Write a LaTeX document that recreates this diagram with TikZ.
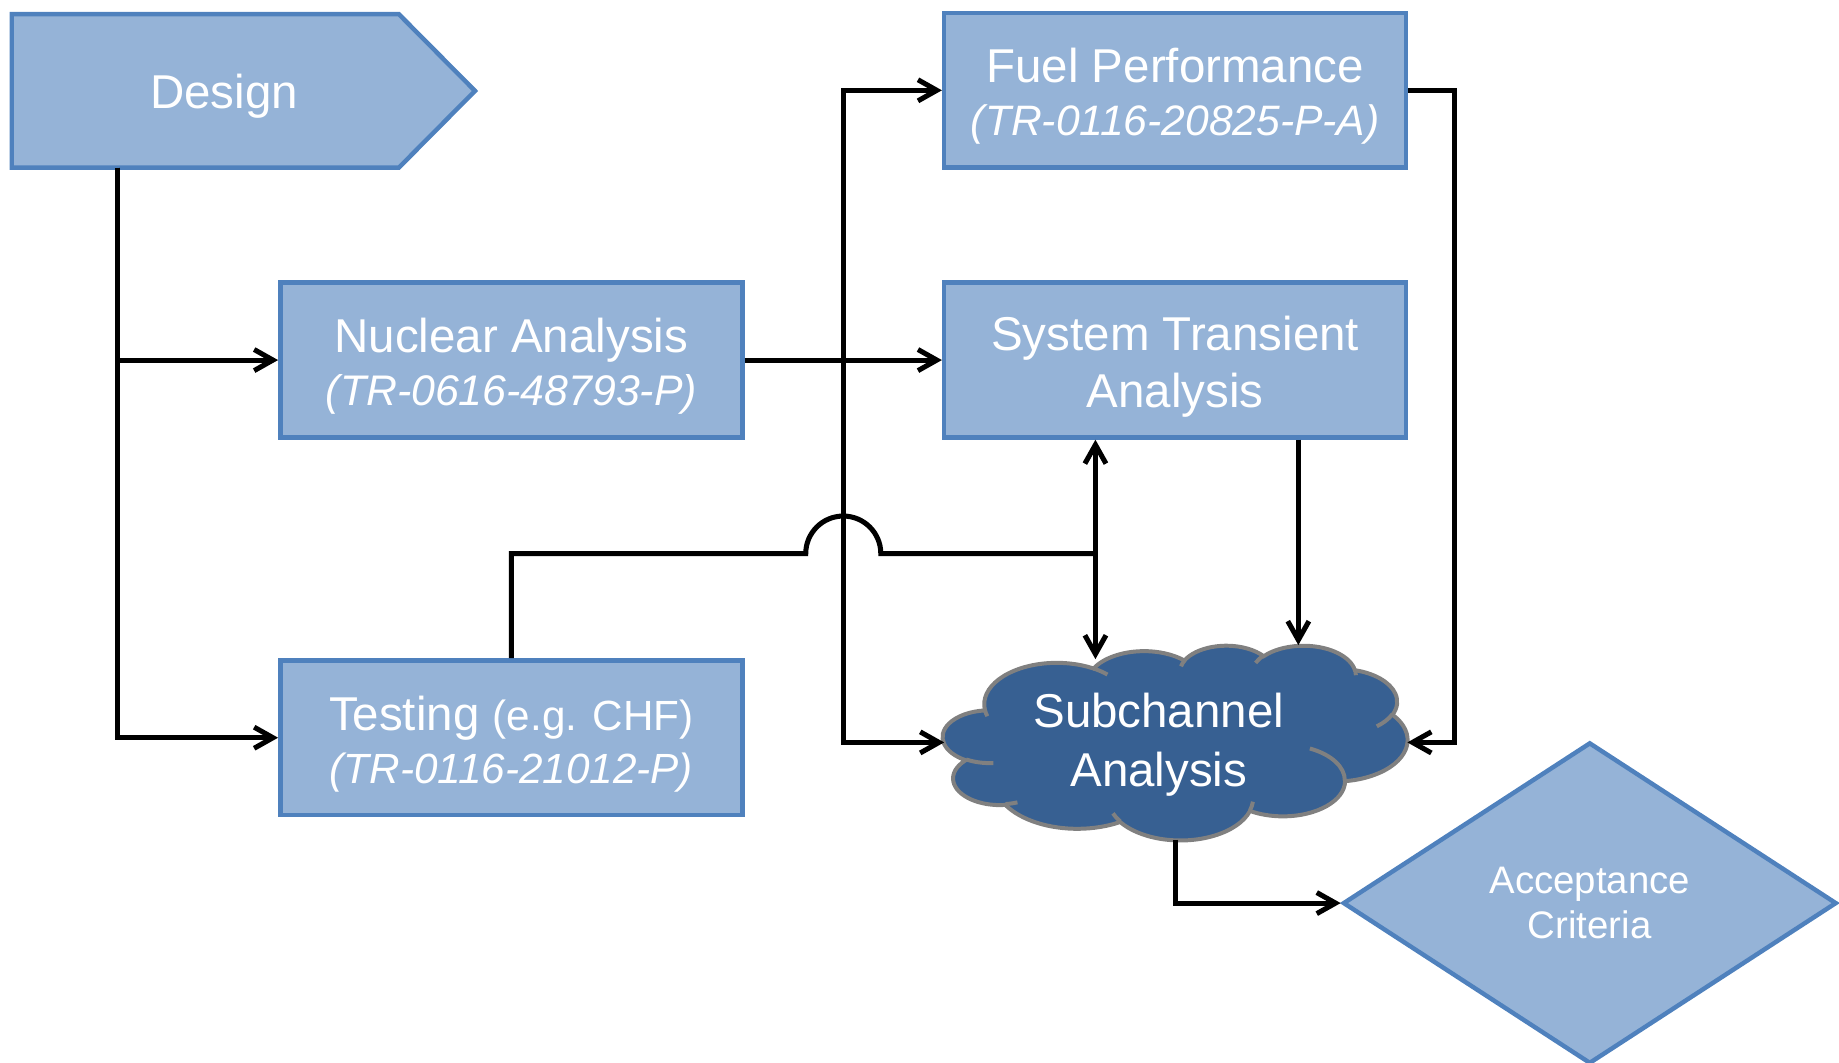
\documentclass[tikz,border=0pt]{standalone}
\usepackage{fontspec}
\setmainfont{Liberation Sans}
\usetikzlibrary{arrows.meta,shapes.geometric}
\definecolor{boxfill}{RGB}{149,179,215}
\definecolor{boxline}{RGB}{79,129,189}
\definecolor{cloudfill}{RGB}{55,96,146}
\definecolor{cloudline}{RGB}{128,128,128}
% DrawingML arcTo -> TikZ parametric arc
\newcommand\mkcloudarc[5]{%
  \pgfmathsetmacro\cloudtmps{atan2((#2)*sin(#4),(#3)*cos(#4))}%
  \pgfmathsetmacro\cloudtmpe{atan2((#2)*sin((#4)+(#5)),(#3)*cos((#4)+(#5)))}%
  \pgfmathsetmacro\cloudtmpd{mod(\cloudtmpe-(\cloudtmps)+720,360)}%
  \expandafter\xdef\csname CAs#1\endcsname{\cloudtmps}%
  \expandafter\xdef\csname CAd#1\endcsname{\cloudtmpd}%
  \expandafter\xdef\csname CAx#1\endcsname{#2}%
  \expandafter\xdef\csname CAy#1\endcsname{#3}%
}
\tikzset{
  carc/.style={x radius=\csname CAx#1\endcsname, y radius=\csname CAy#1\endcsname,
    start angle=\csname CAs#1\endcsname, delta angle=\csname CAd#1\endcsname},
  box/.style={draw=boxline, fill=boxfill, line width=3.8pt, minimum width=394pt,
    minimum height=132pt, inner sep=0pt, align=center, text=white,
    font={\fontsize{40.5}{45}\selectfont}},
  conn/.style={line width=4.3pt, draw=black},
  arr/.style={-{Straight Barb[length=16pt,width=18pt]}},
}
\begin{document}
\begin{tikzpicture}[x=1pt,y=1pt,yscale=-1]
\useasboundingbox (0,0) rectangle (1568,906);

% cloud arc parameters
\mkcloudarc{A}{67.53}{91.90}{-190.48748}{123.78053}
\mkcloudarc{B}{53.33}{72.67}{-144.10238}{89.94523}
\mkcloudarc{C}{43.65}{59.45}{-145.80792}{99.72302}
\mkcloudarc{D}{48.57}{65.95}{-130.98607}{117.24173}
\mkcloudarc{E}{53.33}{72.73}{-78.70888}{109.02692}
\mkcloudarc{F}{67.75}{92.20}{-46.26725}{130.269}
\mkcloudarc{G}{57.85}{78.67}{0.62502}{114.03333}
\mkcloudarc{H}{67.52}{92.15}{22.4516}{115.17255}
\mkcloudarc{I}{77.20}{105.43}{66.24263}{75.71102}
\mkcloudarc{J}{43.60}{59.18}{-274.94208}{146.73557}
\mkcloudarc{K}{43.45}{59.45}{-246.8285}{152.51885}
\mkcloudarc{IA}{43.45}{59.45}{86.742}{26.4295}
\mkcloudarc{IB}{43.60}{59.18}{73.61047}{11.44747}
\mkcloudarc{IC}{67.52}{92.15}{137.62415}{14.0811}
\mkcloudarc{ID}{67.52}{92.15}{6.45327}{15.99835}
\mkcloudarc{IE}{57.85}{78.67}{-70.29235}{70.91737}
\mkcloudarc{IF}{53.33}{72.73}{30.31803}{27.7515}
\mkcloudarc{IG}{48.57}{65.95}{-13.74433}{14.8589}
\mkcloudarc{IH}{48.57}{65.95}{-149.18145}{18.19537}
\mkcloudarc{II}{43.65}{59.45}{-163.49427}{17.68635}
\mkcloudarc{IJ}{67.53}{91.90}{-66.70695}{12.31935}
\mkcloudarc{IK}{67.53}{91.90}{157.65435}{11.85817}

% Design arrow pentagon
\filldraw[fill=boxfill, draw=boxline, line width=3.8pt]
  (10,12) -- (340,12) -- (405,77.5) -- (340,143) -- (10,143) -- cycle;
\node[text=white, font={\fontsize{40.5}{45}\selectfont}] (design) at (191,82) {Design};

% boxes
\node[box] (nuc) at (436,307) {\rule{0pt}{40pt}Nuclear Analysis\\{\fontsize{36.5}{45}\selectfont\itshape (TR-0616-48793-P)}};
\node[box] (test) at (436,629) {\rule{0pt}{40pt}Testing {\fontsize{36}{45}\selectfont(e.g. CHF)}\\{\fontsize{36}{45}\selectfont\itshape (TR-0116-21012-P)}};
\node[box] (fuel) at (1002,77) {\rule{0pt}{40pt}Fuel Performance\\{\fontsize{36.3}{45}\selectfont\itshape (TR-0116-20825-P-A)}};
\node[box, font={\fontsize{40.5}{49}\selectfont}] (sys) at (1002,307) {\rule{0pt}{41pt}System Transient\\Analysis};

% cloud
\begin{scope}[shift={(804,550)}, xscale=396/432, yscale=166/432]
  \filldraw[fill=cloudfill, draw=cloudline, line width=3.4pt]
    (39.00,143.70) arc[carc=A] arc[carc=B] arc[carc=C] arc[carc=D] arc[carc=E]
    arc[carc=F] arc[carc=G] arc[carc=H] arc[carc=I] arc[carc=J] arc[carc=K] -- cycle;
  \draw[cloudline, line width=3.4pt]
    (46.93,261.77) arc[carc=IA]
    (69.28,348.99) arc[carc=IB]
    (164.78,390.90) arc[carc=IC]
    (288.27,347.51) arc[carc=ID]
    (341.29,229.54) arc[carc=IE]
    (417.98,153.54) arc[carc=IF]
    (383.24,54.26) arc[carc=IG]
    (290.78,39.52) arc[carc=IH]
    (221.41,47.20) arc[carc=II]
    (140.00,51.92) arc[carc=IJ]
    (41.27,157.89) arc[carc=IK];
\end{scope}
\node[text=white, align=center, font={\fontsize{40.5}{50}\selectfont}] (sub) at (988,635) {Subchannel\\Analysis};

% diamond
\node[diamond, draw=boxline, fill=boxfill, line width=3.8pt, minimum width=421pt,
  minimum height=274pt, aspect=1.536, inner sep=0pt, align=center, text=white,
  font={\fontsize{32.7}{39}\selectfont}] (acc) at (1355.5,770) {Acceptance\\Criteria};

% named connector points
\coordinate (dstem) at (100,143);
\coordinate (split) at (719,307);
\coordinate (tj) at (934,472);
\coordinate (jl) at (687,472);
\coordinate (cl) at (805,633);
\coordinate (cr) at (1200,633);
\coordinate (ct1) at (934,562);
\coordinate (ct2) at (1107,550);
\coordinate (cb) at (1002,716);
\coordinate (rbend) at (1240,633);

% connectors
\draw[conn,arr] (dstem) |- (nuc.west);
\draw[conn,arr] (dstem) |- (test.west);
\draw[conn,arr] (nuc.east) -- (sys.west);
\draw[conn,arr] (split) |- (fuel.west);
\draw[conn,arr] (split) |- (cl);
\draw[conn] (test.north) |- (jl) arc[start angle=180, end angle=360, radius=32] -- (tj);
\draw[conn,arr] (tj) -- (tj |- sys.south);
\draw[conn,arr] (tj) -- (ct1);
\draw[conn,arr] (ct2 |- sys.south) -- (ct2);
\draw[conn,arr] (fuel.east) -| (rbend) -- (cr);
\draw[conn,arr] (cb) |- (acc.west);
\end{tikzpicture}
\end{document}
